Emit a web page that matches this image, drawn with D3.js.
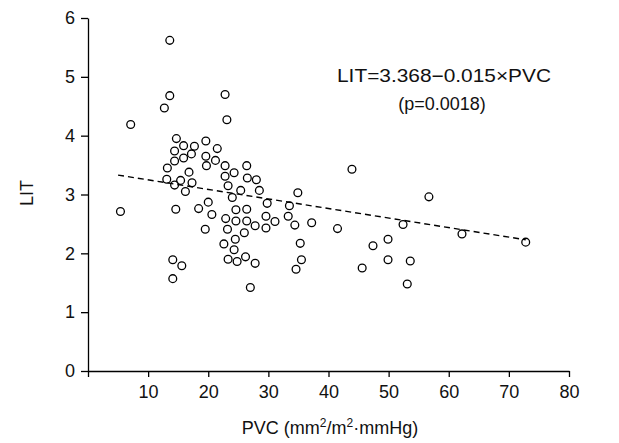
<!DOCTYPE html>
<html><head><meta charset="utf-8">
<script src="https://cdn.jsdelivr.net/npm/d3@7"></script>
<style>
html,body{margin:0;padding:0;background:#fff;}
svg{display:block;font-family:"Liberation Sans",Arial,sans-serif;}
</style>
</head><body>
<svg id="chart" width="619" height="443"></svg>
<script>
// PVC values (x) and LIT values (y)
const pvc = [13.6,13.6,12.7,22.8,23.1,7.1,14.7,15.9,17.7,19.6,21.5,14.4,15.9,17.2,19.6,21.2,19.7,14.4,13.2,22.8,16.8,22.8,13.1,15.4,17.3,14.4,16.2,23.3,24.0,5.4,14.6,18.4,20.0,20.6,19.5,22.9,23.2,22.6,23.3,14.1,15.6,14.1,
  26.4,24.3,26.5,28.0,25.4,28.5,34.9,29.8,33.5,24.6,26.4,24.6,26.4,29.6,31.1,33.3,34.4,37.2,41.5,27.8,29.6,26.0,24.5,24.3,24.8,26.2,27.8,27.0,35.3,35.5,34.6,
  43.9,56.7,52.4,62.2,72.8,49.9,47.4,49.9,53.6,45.6,53.1];
const lit = [5.62,4.68,4.47,4.70,4.27,4.19,3.95,3.83,3.82,3.91,3.78,3.74,3.62,3.69,3.65,3.58,3.49,3.57,3.45,3.49,3.38,3.31,3.26,3.24,3.20,3.16,3.05,3.15,2.95,2.71,2.75,2.76,2.87,2.66,2.41,2.59,2.41,2.16,1.90,1.89,1.79,1.57,
  3.49,3.37,3.28,3.25,3.07,3.07,3.03,2.85,2.81,2.74,2.75,2.55,2.55,2.63,2.54,2.63,2.48,2.52,2.42,2.47,2.43,2.35,2.24,2.06,1.86,1.94,1.83,1.42,2.17,1.89,1.73,
  3.43,2.96,2.49,2.33,2.19,2.24,2.13,1.89,1.87,1.75,1.48];
// regression line end points
const fitX = [5.0, 72.8];
const fitY = [3.33, 2.23];
const xTicks = [0,10,20,30,40,50,60,70,80];
const yTicks = [0,1,2,3,4,5,6];
const equation = "LIT=3.368\u22120.015\u00d7PVC";
const pText = "(p=0.0018)";

const svg = d3.select("#chart");
const x = d3.scaleLinear().domain([0,80]).range([88,569]);
const y = d3.scaleLinear().domain([0,6]).range([371,18]);

const fs = 18;
const xAxis = svg.append("g").attr("transform","translate(0,371)")
  .call(d3.axisBottom(x).tickValues(xTicks).tickSizeInner(6).tickSizeOuter(0).tickPadding(8)
    .tickFormat(d => d===0 ? "" : d3.format("d")(d)));
const yAxis = svg.append("g").attr("transform","translate(88,0)")
  .call(d3.axisLeft(y).tickValues(yTicks).tickSizeInner(7).tickSizeOuter(0).tickPadding(6)
    .tickFormat(d3.format("d")));
[xAxis,yAxis].forEach(g=>{
  g.selectAll("path,line").attr("stroke","#000").attr("stroke-width",1.3);
  g.selectAll("text").attr("font-size",fs).attr("fill","#111").attr("font-family","Liberation Sans, Arial, sans-serif");
});

// regression line
svg.append("line")
  .attr("x1",x(fitX[0])).attr("y1",y(fitY[0]))
  .attr("x2",x(fitX[1])).attr("y2",y(fitY[1]))
  .attr("stroke","#000").attr("stroke-width",1.4).attr("stroke-dasharray","6,4");

// points
svg.append("g").selectAll("circle").data(pvc.map((v,i)=>[v,lit[i]])).join("circle")
  .attr("cx",d=>x(d[0])).attr("cy",d=>y(d[1])).attr("r",3.9)
  .attr("fill","none").attr("stroke","#000").attr("stroke-width",1.3);

// equation
svg.append("text").attr("x",444).attr("y",82).attr("text-anchor","middle")
  .attr("font-size",18).attr("fill","#111")
  .attr("textLength",214).attr("lengthAdjust","spacingAndGlyphs").text(equation);
svg.append("text").attr("x",442).attr("y",110).attr("text-anchor","middle")
  .attr("font-size",18).attr("fill","#111").text(pText);

// y title
svg.append("text").attr("transform","translate(33,193) rotate(-90)").attr("text-anchor","middle")
  .attr("font-size",18).attr("fill","#111").text("LIT");

// x title
const xt = svg.append("text").attr("x",330).attr("y",434).attr("text-anchor","middle")
  .attr("font-size",18).attr("fill","#111");
xt.append("tspan").text("PVC (mm");
xt.append("tspan").attr("dy",-7).attr("font-size",12).text("2");
xt.append("tspan").attr("dy",7).text("/m");
xt.append("tspan").attr("dy",-7).attr("font-size",12).text("2");
xt.append("tspan").attr("dy",7).text("\u00b7mmHg)");
</script>
</body></html>
